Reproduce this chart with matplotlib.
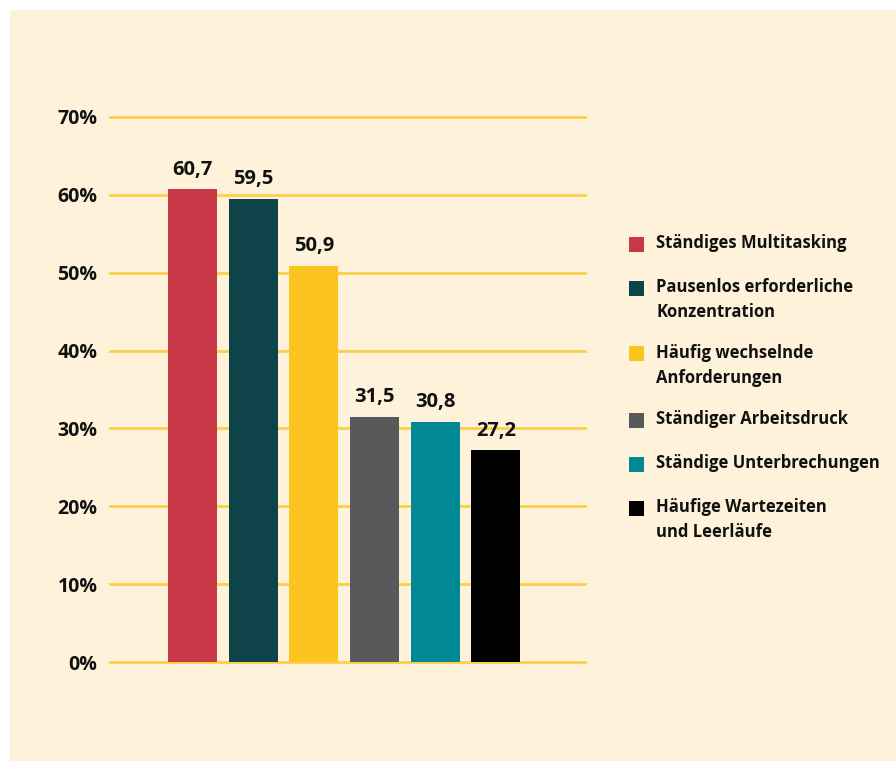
import matplotlib.pyplot as plt
from matplotlib.patches import Rectangle

categories = ["Ständiges Multitasking",
              "Pausenlos erforderliche\nKonzentration",
              "Häufig wechselnde\nAnforderungen",
              "Ständiger Arbeitsdruck",
              "Ständige Unterbrechungen",
              "Häufige Wartezeiten\nund Leerläufe"]
values = [60.7, 59.5, 50.9, 31.5, 30.8, 27.2]
colors = ["#C83745", "#0E434A", "#FCC41E", "#59585A", "#008995", "#000000"]
yticks = [0, 10, 20, 30, 40, 50, 60, 70]

plt.rcParams['font.family'] = ['Open Sans', 'DejaVu Sans']
bg = "#FEF2DA"
W, H = 896, 761

fig = plt.figure(figsize=(W / 100, H / 100), dpi=100, facecolor="white")
fig.patches.append(Rectangle((10 / W, -0.01), 1, (H - 10) / H + 0.01, transform=fig.transFigure,
                             facecolor=bg, edgecolor="none", zorder=-10))

ax = fig.add_axes([110 / W, (H - 662) / H, (585 - 110) / W, (662 - 117) / H])
ax.set_facecolor("none")
x = list(range(len(values)))
bars = ax.bar(x, values, width=0.81, color=colors, zorder=3)
ax.bar_label(bars, labels=[f"{v:.1f}".replace(".", ",") for v in values],
             padding=7, fontsize=14.5, fontweight="bold", color="#111111")

ax.set_ylim(0, 70)
ax.set_xlim(-1.36, 6.47)
ax.set_yticks(yticks)
ax.set_yticklabels([f"{t}%" for t in yticks], fontsize=14, fontweight="bold", color="#111111")
ax.tick_params(axis="y", length=0, pad=9)
ax.set_xticks([])
for t in yticks:
    ax.axhline(t, color="#FCD04A", linewidth=2, zorder=1, clip_on=False)
for s in ax.spines.values():
    s.set_visible(False)

# legend drawn by hand so the square sits on the first text line
first_line_y = [244, 288, 354, 420, 464, 508]
for label, col, yy in zip(categories, colors, first_line_y):
    fig.patches.append(Rectangle((629 / W, (H - yy - 7.5) / H), 15 / W, 15 / H,
                                 transform=fig.transFigure, facecolor=col, edgecolor="none"))
    fig.text(656 / W, (H - yy + 10) / H, label, fontsize=12, fontweight="bold",
             color="#111111", va="top", ha="left", linespacing=1.5)

fig.savefig("out.png", dpi=100, facecolor=fig.get_facecolor())
